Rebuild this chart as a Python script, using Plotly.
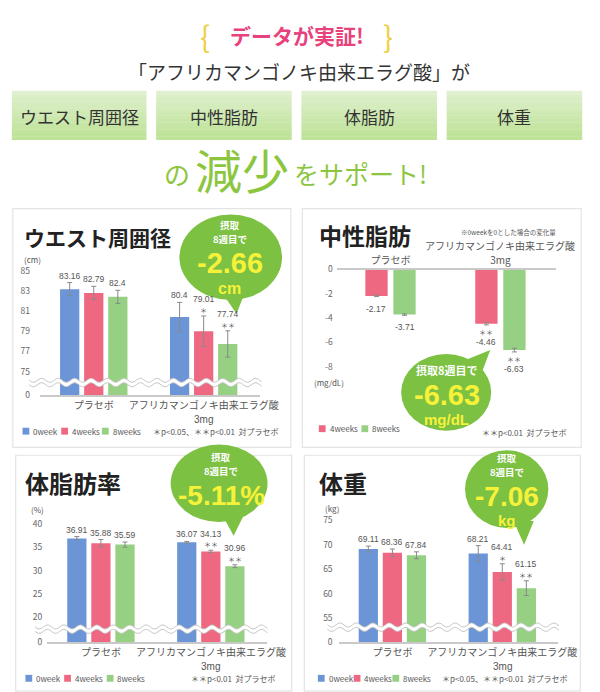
import math
import plotly.graph_objects as go

W, H = 600, 692
FONT = "Noto Sans CJK JP, Noto Sans, sans-serif"
NUMF = "Liberation Sans, Arial, sans-serif"

# ---------------- data ----------------
GROUPS = ["プラセボ", "アフリカマンゴノキ由来エラグ酸"]
DOSE = ["", "3mg"]
WEEKS = ["0week", "4weeks", "8weeks"]
COLORS = ["#6b95d6", "#ef6882", "#96d083"]

waist_0w = [83.16, 80.40]
waist_4w = [82.79, 79.01]
waist_8w = [82.40, 77.74]
waist_err_0w = [0.65, 1.45]
waist_err_4w = [0.65, 1.50]
waist_err_8w = [0.65, 1.30]
waist_sig_4w = ["", "＊"]
waist_sig_8w = ["", "＊＊"]
waist_ticks = [75, 77, 79, 81, 83, 85]

tg_4w = [-2.17, -4.46]
tg_8w = [-3.71, -6.63]
tg_err_4w = [0.06, 0.10]
tg_err_8w = [0.06, 0.15]
tg_sig_4w = ["", "＊＊"]
tg_sig_8w = ["", "＊＊"]
tg_ticks = [0, -2, -4, -6, -8]

fat_0w = [36.91, 36.07]
fat_4w = [35.88, 34.13]
fat_8w = [35.59, 30.96]
fat_err_0w = [0.40, 0.20]
fat_err_4w = [0.80, 0.25]
fat_err_8w = [0.55, 0.30]
fat_sig_4w = ["", "＊＊"]
fat_sig_8w = ["", "＊＊"]
fat_ticks = [20, 25, 30, 35, 40]

weight_0w = [69.11, 68.21]
weight_4w = [68.36, 64.41]
weight_8w = [67.84, 61.15]
weight_err_0w = [0.60, 1.60]
weight_err_4w = [0.75, 1.70]
weight_err_8w = [0.70, 1.50]
weight_sig_4w = ["", "＊"]
weight_sig_8w = ["", "＊＊"]
weight_ticks = [55, 60, 65, 70, 75]


# ---------------- helpers ----------------
def P(x):
    return x / W


def Q(y):
    return 1 - y / H


fig = go.Figure()
shapes = []
anns = []


def text(x, y, s, size=10, color="#333", xanchor="center", yanchor="middle", bold=False, family=FONT):
    anns.append(dict(
        x=P(x), y=Q(y), xref="paper", yref="paper", text=(f"<b>{s}</b>" if bold else s),
        showarrow=False, xanchor=xanchor, yanchor=yanchor, borderpad=0,
        font=dict(family=family, size=size, color=color)))


def panel_box(x0, y0, x1, y1):
    shapes.append(dict(type="rect", xref="paper", yref="paper", x0=P(x0), x1=P(x1),
                       y0=Q(y1), y1=Q(y0), line=dict(color="#e4e4e4", width=1.2),
                       fillcolor="white", layer="below"))


def wave(x0, x1, yc, amp=2.0, wl=17.0, gap=4.5):
    n = int(x1 - x0)
    xs = [x0 + (x1 - x0) * i / n for i in range(n + 1)]
    up = [(x, yc - gap / 2 + amp * math.sin(2 * math.pi * (x - x0) / wl)) for x in xs]
    lo = [(x, yc + gap / 2 + amp * math.sin(2 * math.pi * (x - x0) / wl)) for x in xs]

    def pstr(pts):
        return " ".join(("M" if i == 0 else "L") + f"{P(a):.5f},{Q(b):.5f}" for i, (a, b) in enumerate(pts))

    fill = pstr(up + lo[::-1]) + " Z"
    shapes.append(dict(type="path", xref="paper", yref="paper", path=fill,
                       fillcolor="white", line=dict(width=0), layer="above"))
    for pts in (up, lo):
        shapes.append(dict(type="path", xref="paper", yref="paper", path=pstr(pts),
                           line=dict(color="#c4c4c4", width=1), layer="above"))


def bubble(x0, y0, x1, y1, tail):
    col = "#7cc142"
    shapes.append(dict(type="path", xref="paper", yref="paper",
                       path="M" + " L".join(f"{P(a):.5f},{Q(b):.5f}" for a, b in tail) + " Z",
                       fillcolor=col, line=dict(width=0), layer="above"))
    shapes.append(dict(type="circle", xref="paper", yref="paper", x0=P(x0), x1=P(x1),
                       y0=Q(y1), y1=Q(y0), fillcolor=col, line=dict(width=0), layer="above"))


def legend_row(items, y):
    for (x, label, color) in items:
        shapes.append(dict(type="rect", xref="paper", yref="paper", x0=P(x), x1=P(x + 7),
                           y0=Q(y + 3.5), y1=Q(y - 3.5), fillcolor=color, line=dict(width=0)))
        text(x + 10, y, label, size=8, color="#555", xanchor="left")


LBL = dict(family=NUMF, size=8.5, color="#555")
SIG = dict(family=FONT, size=7, color="#555")


def add_panel(n, series, errs, sigs, names, colors, offsets, width, rng, tickvals, ticktext,
              cats, xdom, ydom, standoff, xside="bottom", below=False):
    xa = "x" if n == 1 else f"x{n}"
    ya = "y" if n == 1 else f"y{n}"
    for vals, err, sig, name, col, off in zip(series, errs, sigs, names, colors, offsets):
        fig.add_trace(go.Bar(
            x=[0, 1], y=vals, name=name, marker=dict(color=col, line=dict(width=0)),
            width=width, offset=off, xaxis=xa, yaxis=ya, showlegend=False,
            error_y=dict(type="data", array=err, color="#8a8a8a", thickness=1, width=2.5)))
        for gi in range(2):
            xc = gi + off + width / 2
            v, e, s = vals[gi], err[gi], sig[gi]
            if not below:
                if s:
                    anns.append(dict(x=xc, y=v + e, xref=xa, yref=ya, text=s, showarrow=False,
                                     yanchor="bottom", yshift=0, borderpad=0, font=SIG))
                anns.append(dict(x=xc, y=v + e, xref=xa, yref=ya, text=f"{v:g}", showarrow=False,
                                 yanchor="bottom", yshift=(10.5 if s else 1), borderpad=0, font=LBL))
            else:
                if s:
                    anns.append(dict(x=xc, y=v - e, xref=xa, yref=ya, text=s, showarrow=False,
                                     yanchor="top", yshift=-1, borderpad=0, font=SIG))
                anns.append(dict(x=xc, y=v - e, xref=xa, yref=ya, text=f"{v:g}", showarrow=False,
                                 yanchor="top", yshift=(-11.5 if s else -6), borderpad=0, font=LBL))
    key = "" if n == 1 else str(n)
    fig.layout["xaxis" + key] = dict(
        domain=[P(xdom[0]), P(xdom[1])], anchor=ya, range=[-0.49, 1.51],
        tickvals=[0, 1], ticktext=cats, side=xside,
        showgrid=False, zeroline=False,
        showline=True, linecolor="#c9c9c9", linewidth=1.5, ticks="",
        tickfont=dict(family=FONT, size=10, color="#555"), fixedrange=True)
    fig.layout["yaxis" + key] = dict(
        domain=[Q(ydom[1]), Q(ydom[0])], anchor=xa, range=rng,
        tickvals=tickvals, ticktext=ticktext,
        showgrid=False, zeroline=False,
        showline=False, ticks="", ticklabelstandoff=standoff,
        tickfont=dict(family=FONT, size=8.5, color="#666"), fixedrange=True)
    return xa


def extra_line(xa, gi, y, s, family=FONT):
    anns.append(dict(x=gi, y=Q(y), xref=xa, yref="paper", text=s, showarrow=False,
                     yanchor="middle", borderpad=0, font=dict(family=family, size=10, color="#555")))


# ---------------- header ----------------
text(203, 20, "{", size=30, color="#f0cf45")
text(392, 20, "}", size=30, color="#f0cf45")
text(298, 20, "データが実証!", size=21, color="#e8427c", bold=True)
text(301, 57, "「アフリカマンゴノキ由来エラグ酸」が", size=19, color="#333")

boxes = [(4, 143, "ウエスト周囲径"), (153, 293, "中性脂肪"), (303, 443, "体脂肪"), (453, 593, "体重")]
top_c = (222, 240, 205)
bot_c = (190, 226, 150)
nstrip = 14
for (bx0, bx1, label) in boxes:
    for i in range(nstrip):
        t = i / (nstrip - 1)
        c = tuple(int(top_c[k] + (bot_c[k] - top_c[k]) * t) for k in range(3))
        ya0 = 77 + (127 - 77) * i / nstrip
        ya1 = 77 + (127 - 77) * (i + 1) / nstrip
        shapes.append(dict(type="rect", xref="paper", yref="paper", x0=P(bx0), x1=P(bx1),
                           y0=Q(ya1 + 0.3), y1=Q(ya0), fillcolor=f"rgb{c}", line=dict(width=0),
                           layer="below"))
    text((bx0 + bx1) / 2, 103, label, size=17, color="#333")

GREEN_T = "#8cc63f"
text(189, 161, "の", size=26, color=GREEN_T, xanchor="right")
text(242, 156, "減少", size=47, color=GREEN_T)
text(294, 161, "をサポート!", size=25, color=GREEN_T, xanchor="left")

# ---------------- panels ----------------
panel_box(5, 197, 292, 440)
panel_box(304, 197, 592, 440)
panel_box(8, 448, 293, 688)
panel_box(306, 448, 591, 688)

OFF3 = [-0.307, -0.088, 0.131]
W3 = 0.175

# Panel 1: waist
w_base = 72.67
xa1 = add_panel(1, [waist_0w, waist_4w, waist_8w], [waist_err_0w, waist_err_4w, waist_err_8w],
                [["", ""], waist_sig_4w, waist_sig_8w], WEEKS, COLORS, OFF3, W3,
                [w_base, 85.49], [w_base] + waist_ticks, ["0"] + [str(t) for t in waist_ticks],
                GROUPS, (33, 260), (255, 387), 9)
extra_line(xa1, 1, 411.5, DOSE[1], NUMF)
wave(22, 262, 374)
text(15, 226, "ウエスト周囲径", size=21, color="#222", xanchor="left", bold=True)
text(15, 249, "(cm)", size=8, color="#555", xanchor="left")
legend_row([(15, "0week", COLORS[0]), (55, "4weeks", COLORS[1]), (97, "8weeks", COLORS[2])], 423.5)
text(280, 423.5, "＊p<0.05、＊＊p<0.01  対プラセボ", size=8, color="#555", xanchor="right")

# Panel 2: triglyceride (change from 0 week)
xa2 = add_panel(2, [tg_4w, tg_8w], [tg_err_4w, tg_err_8w], [tg_sig_4w, tg_sig_8w],
                WEEKS[1:], COLORS[1:], [-0.229, 0.026], 0.203,
                [-8.57, 0], tg_ticks, [str(t) for t in tg_ticks],
                [GROUPS[0], DOSE[1]], (339.4, 566.4), (259, 365), 3, xside="top", below=True)
extra_line(xa2, 1, 235, GROUPS[1])
text(320, 224, "中性脂肪", size=23, color="#222", xanchor="left", bold=True)
text(517, 221, "※0weekを0とした場合の変化量", size=6.5, color="#555")
text(331, 374, "(mg/dL)", size=8, color="#555")
legend_row([(321, "4weeks", COLORS[1]), (365, "8weeks", COLORS[2])], 421)
text(578, 425, "＊＊p<0.01  対プラセボ", size=8, color="#555", xanchor="right")

# Panel 3: body fat
f_base = 14.74
xa3 = add_panel(3, [fat_0w, fat_4w, fat_8w], [fat_err_0w, fat_err_4w, fat_err_8w],
                [["", ""], fat_sig_4w, fat_sig_8w], WEEKS, COLORS, OFF3, W3,
                [f_base, 41.26], [f_base] + fat_ticks, ["0"] + [str(t) for t in fat_ticks],
                GROUPS, (40.4, 267.4), (512, 638), 4)
extra_line(xa3, 1, 662.5, DOSE[1], NUMF)
wave(28, 268, 625)
text(17, 476, "体脂肪率", size=24, color="#222", xanchor="left", bold=True)
text(30, 503, "(%)", size=8, color="#555")
legend_row([(18, "0week", COLORS[0]), (58, "4weeks", COLORS[1]), (102, "8weeks", COLORS[2])], 675)
text(278, 675, "＊＊p<0.01  対プラセボ", size=8, color="#555", xanchor="right")

# Panel 4: body weight
k_base = 50.2
xa4 = add_panel(4, [weight_0w, weight_4w, weight_8w], [weight_err_0w, weight_err_4w, weight_err_8w],
                [["", ""], weight_sig_4w, weight_sig_8w], WEEKS, COLORS, OFF3, W3,
                [k_base, 76.2], [k_base] + weight_ticks, ["0"] + [str(t) for t in weight_ticks],
                GROUPS, (341.4, 568.4), (508, 638), 5)
extra_line(xa4, 1, 662.5, DOSE[1], NUMF)
wave(330, 569, 623)
text(320, 476, "体重", size=24, color="#222", xanchor="left", bold=True)
text(335, 502, "(kg)", size=8, color="#555")
legend_row([(320, "0week", COLORS[0]), (357, "4weeks", COLORS[1]), (397, "8weeks", COLORS[2])], 675)
text(578, 675, "＊p<0.05、＊＊p<0.01  対プラセボ", size=8, color="#555", xanchor="right")

# ---------------- bubbles ----------------
YEL = "#f6f23a"


def stack(x, ytop, small, small_size, big, big_size, unit=None, unit_size=16, gap=1.5):
    y = ytop
    for s in small:
        anns.append(dict(x=P(x), y=Q(y), xref="paper", yref="paper",
                         text=f"<b>{s}</b>", showarrow=False,
                         xanchor="center", yanchor="top", borderpad=0,
                         font=dict(family=FONT, size=small_size, color="white")))
        y += small_size * 1.45 + 0.5
    y_big = y + gap
    anns.append(dict(x=P(x), y=Q(y_big), xref="paper", yref="paper",
                     text=f"<b>{big}</b>", showarrow=False,
                     xanchor="center", yanchor="top", borderpad=0,
                     font=dict(family=NUMF, size=big_size, color=YEL)))
    if unit:
        y_unit = y_big + big_size * 1.12 + 0.5
        anns.append(dict(x=P(x), y=Q(y_unit), xref="paper", yref="paper",
                         text=f"<b>{unit}</b>", showarrow=False,
                         xanchor="center", yanchor="top", borderpad=0,
                         font=dict(family=NUMF, size=unit_size, color=YEL)))


bubble(177, 203, 283, 290, [(222, 284), (244, 284), (236, 304)])
stack(229, 205.5, ["摂取", "8週目で"], 9.5, "-2.66", 29, "cm", 16)

bubble(406, 345, 499, 423, [(470, 352), (490, 362), (498, 341)])
stack(453, 352, ["摂取8週目で"], 11, "-6.63", 29, "mg/dL", 15, gap=0.5)

bubble(168, 437, 268, 516, [(222, 510), (243, 510), (233, 530)])
stack(220, 442, ["摂取", "8週目で"], 9.5, "-5.11%", 28)

bubble(472, 443, 558, 522, [(522, 515), (543, 515), (533, 539)])
stack(515, 443, ["摂取", "8週目で"], 9.5, "-7.06", 28, "kg", 15)

fig.update_layout(
    width=W, height=H, margin=dict(l=0, r=0, t=0, b=0),
    paper_bgcolor="white", plot_bgcolor="rgba(0,0,0,0)",
    barmode="overlay", showlegend=False,
    font=dict(family=FONT),
    shapes=shapes, annotations=anns)

fig.write_html("out.html")
